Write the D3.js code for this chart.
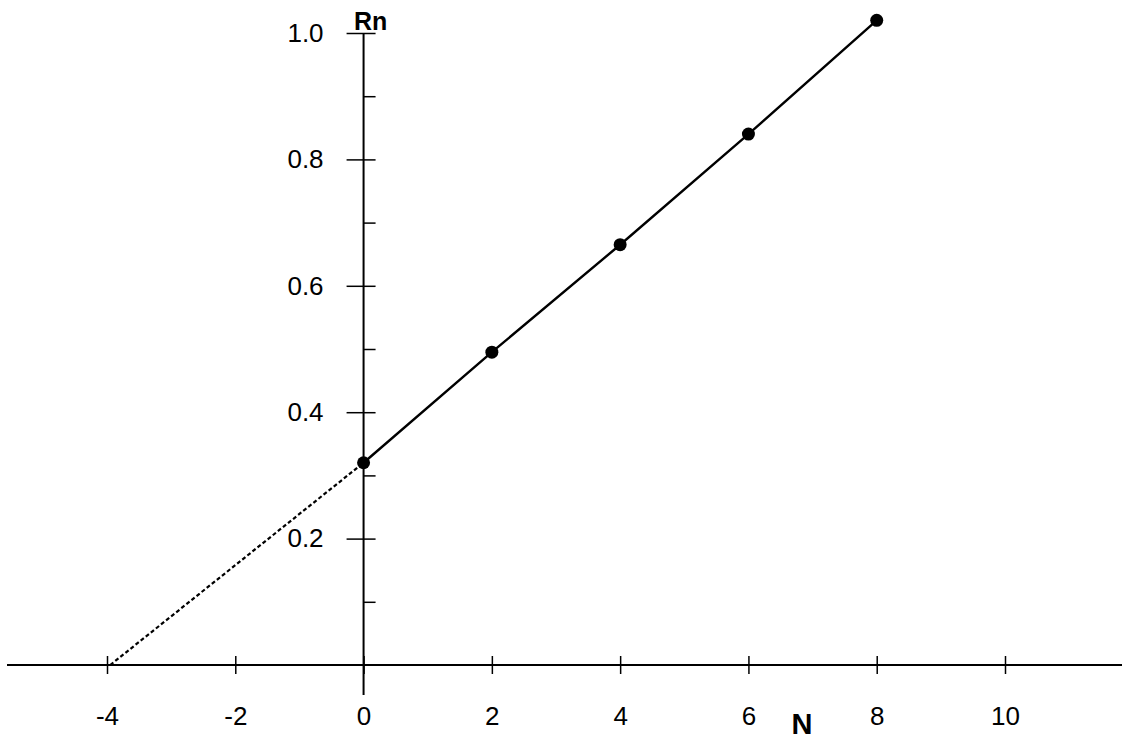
<!DOCTYPE html>
<html>
<head>
<meta charset="utf-8">
<script src="https://cdn.jsdelivr.net/npm/d3@7"></script>
<style>
  html, body { margin: 0; padding: 0; background: #fff; }
  svg { display: block; }
  text { font-family: "Liberation Sans", Arial, sans-serif; fill: #000; }
</style>
</head>
<body>
<svg id="chart" width="1122" height="740"></svg>
<script>
// ---- data ----
const nValues = [0, 2, 4, 6, 8];
const rnValues = [0.32, 0.495, 0.665, 0.84, 1.02];
const extrapN = [-3.95, 0];
const extrapRn = [0, 0.32];
const xTickValues = [-4, -2, 0, 2, 4, 6, 8, 10];
const xTickLabels = ["-4", "-2", "0", "2", "4", "6", "8", "10"];
const yMajorTicks = [0.2, 0.4, 0.6, 0.8, 1.0];
const yTickLabels = ["0.2", "0.4", "0.6", "0.8", "1.0"];
const yMinorTicks = [0.1, 0.3, 0.5, 0.7, 0.9];
const xAxisTitle = "N";
const yAxisTitle = "Rn";

// ---- layout ----
const svg = d3.select("#chart");
const x = d3.scaleLinear().domain([-4, 10]).range([107, 1005]);
const y = d3.scaleLinear().domain([0, 1]).range([665, 33]);
const FONT = "Liberation Sans, Arial, sans-serif";

const x0 = x(0), y0 = y(0);

// x axis
const gx = svg.append("g").attr("transform", `translate(0,${y0})`)
  .call(d3.axisBottom(x).tickValues(xTickValues)
    .tickFormat((d, i) => xTickLabels[i]).tickSize(9).tickPadding(33));
gx.select(".domain").remove();
gx.selectAll(".tick line").attr("y1", -9).attr("y2", 9).attr("stroke", "#000").attr("stroke-width", 1.5);
gx.selectAll(".tick text").attr("font-size", 26).attr("font-family", FONT).attr("fill", "#000");
svg.append("line").attr("x1", 7).attr("x2", 1122).attr("y1", y0).attr("y2", y0)
  .attr("stroke", "#000").attr("stroke-width", 2);

// y axis
const gy = svg.append("g").attr("transform", `translate(${x0},0)`)
  .call(d3.axisLeft(y).tickValues(yMajorTicks)
    .tickFormat((d, i) => yTickLabels[i]).tickSize(17).tickPadding(23));
gy.select(".domain").remove();
gy.selectAll(".tick line").attr("x1", -17).attr("x2", 12).attr("stroke", "#000").attr("stroke-width", 1.5);
gy.selectAll(".tick text").attr("font-size", 26).attr("font-family", FONT).attr("fill", "#000");
const gyMinor = svg.append("g").attr("transform", `translate(${x0},0)`)
  .call(d3.axisRight(y).tickValues(yMinorTicks).tickFormat("").tickSize(12));
gyMinor.select(".domain").remove();
gyMinor.selectAll(".tick line").attr("stroke", "#000").attr("stroke-width", 1.5);
svg.append("line").attr("x1", x0).attr("x2", x0).attr("y1", y(1)).attr("y2", 695)
  .attr("stroke", "#000").attr("stroke-width", 2);

// titles
svg.append("text").attr("x", x0 + 7).attr("y", 30).attr("text-anchor", "middle")
  .attr("font-size", 25).attr("font-weight", "bold").text(yAxisTitle);
svg.append("text").attr("x", 802).attr("y", 734).attr("text-anchor", "middle")
  .attr("font-size", 29).attr("font-weight", "bold").text(xAxisTitle);

// dashed extrapolation
const extrap = extrapN.map((n, i) => [n, extrapRn[i]]);
svg.append("path").datum(extrap)
  .attr("d", d3.line().x(d => x(d[0])).y(d => y(d[1])))
  .attr("fill", "none").attr("stroke", "#000").attr("stroke-width", 2.2)
  .attr("stroke-dasharray", "4,2.5");

// solid line
const pts = nValues.map((n, i) => [n, rnValues[i]]);
svg.append("path").datum(pts)
  .attr("d", d3.line().x(d => x(d[0])).y(d => y(d[1])))
  .attr("fill", "none").attr("stroke", "#000").attr("stroke-width", 2.4);

svg.selectAll("circle.pt").data(pts).enter().append("circle")
  .attr("class", "pt")
  .attr("cx", d => x(d[0])).attr("cy", d => y(d[1])).attr("r", 6.5)
  .attr("fill", "#000");
</script>
</body>
</html>
